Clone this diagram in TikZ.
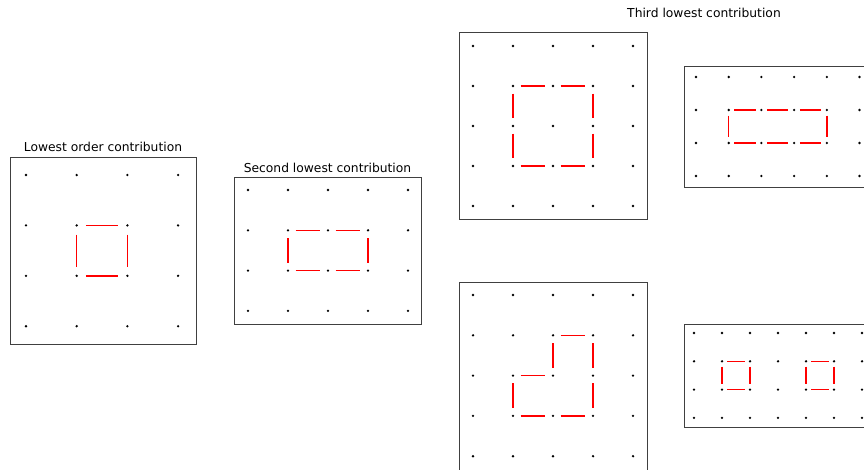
\documentclass[tikz,border=0pt]{standalone}
\usepackage{fontspec}
\setsansfont{DejaVu Sans}
\tikzset{
  panelbox/.style={draw=black!75, line width=1pt},
  site/.style={circle, fill=black, inner sep=0pt, minimum size=2.6pt},
  bond/.style={draw=red, line width=1.5pt, shorten <=#1, shorten >=#1},
  heading/.style={font=\sffamily\fontsize{12.3}{14}\selectfont, anchor=base},
}

\begin{document}
\begin{tikzpicture}[x=1pt, y=-1pt]
  \useasboundingbox (0,0) rectangle (864,469);

  % lowest order: one plaquette
  \draw[panelbox] (10,157) rectangle (196,344);
  \node[heading] (ta) at (103,151) {Lowest order contribution};
  \begin{scope}[shift={(26,175)}, x=50.7pt, y=-50.4pt]
    \foreach \i in {0,...,3} \foreach \j in {0,...,3}
      \node[site] (a-\i-\j) at (\i,\j) {};
    \foreach \p/\q in {1-1/2-1, 1-2/2-2, 1-1/1-2, 2-1/2-2}
      \draw[bond=7.7pt] (a-\p) -- (a-\q);
  \end{scope}

  % second lowest: two plaquettes side by side
  \draw[panelbox] (234,177) rectangle (421,324);
  \node[heading] (tb) at (327.5,172) {Second lowest contribution};
  \begin{scope}[shift={(248,190)}, x=40pt, y=-40.3pt]
    \foreach \i in {0,...,4} \foreach \j in {0,...,3}
      \node[site] (b-\i-\j) at (\i,\j) {};
    \foreach \p/\q in {1-1/2-1, 2-1/3-1, 1-2/2-2, 2-2/3-2, 1-1/1-2, 3-1/3-2}
      \draw[bond=6.2pt] (b-\p) -- (b-\q);
  \end{scope}

  \node[heading] (tc) at (704,17) {Third lowest contribution};

  % third lowest: 2x2 block
  \draw[panelbox] (459,32) rectangle (647,219);
  \begin{scope}[shift={(473,46)}, x=40pt, y=-40pt]
    \foreach \i in {0,...,4} \foreach \j in {0,...,4}
      \node[site] (c-\i-\j) at (\i,\j) {};
    \foreach \p/\q in {1-1/2-1, 2-1/3-1, 1-3/2-3, 2-3/3-3,
                       1-1/1-2, 1-2/1-3, 3-1/3-2, 3-2/3-3}
      \draw[bond=6.2pt] (c-\p) -- (c-\q);
  \end{scope}

  % third lowest: three in a row
  \draw[panelbox] (684,66) rectangle (872,187);
  \begin{scope}[shift={(696,77)}, x=32.7pt, y=-33pt]
    \foreach \i in {0,...,5} \foreach \j in {0,...,3}
      \node[site] (d-\i-\j) at (\i,\j) {};
    \foreach \p/\q in {1-1/2-1, 2-1/3-1, 3-1/4-1, 1-2/2-2, 2-2/3-2, 3-2/4-2,
                       1-1/1-2, 4-1/4-2}
      \draw[bond=4.2pt] (d-\p) -- (d-\q);
  \end{scope}

  % third lowest: L shape
  \draw[panelbox] (459,282) rectangle (647,475);
  \begin{scope}[shift={(473,295)}, x=40pt, y=-40.3pt]
    \foreach \i in {0,...,4} \foreach \j in {0,...,4}
      \node[site] (e-\i-\j) at (\i,\j) {};
    \foreach \p/\q in {2-1/3-1, 2-1/2-2, 1-2/2-2, 1-2/1-3, 1-3/2-3, 2-3/3-3,
                       3-1/3-2, 3-2/3-3}
      \draw[bond=6.2pt] (e-\p) -- (e-\q);
  \end{scope}

  % third lowest: two separate plaquettes
  \draw[panelbox] (684,324) rectangle (872,427);
  \begin{scope}[shift={(694,333)}, x=28pt, y=-28.3pt]
    \foreach \i in {0,...,6} \foreach \j in {0,...,3}
      \node[site] (f-\i-\j) at (\i,\j) {};
    \foreach \p/\q in {1-1/2-1, 1-2/2-2, 1-1/1-2, 2-1/2-2,
                       4-1/5-1, 4-2/5-2, 4-1/4-2, 5-1/5-2}
      \draw[bond=3.8pt] (f-\p) -- (f-\q);
  \end{scope}
\end{tikzpicture}
\end{document}
